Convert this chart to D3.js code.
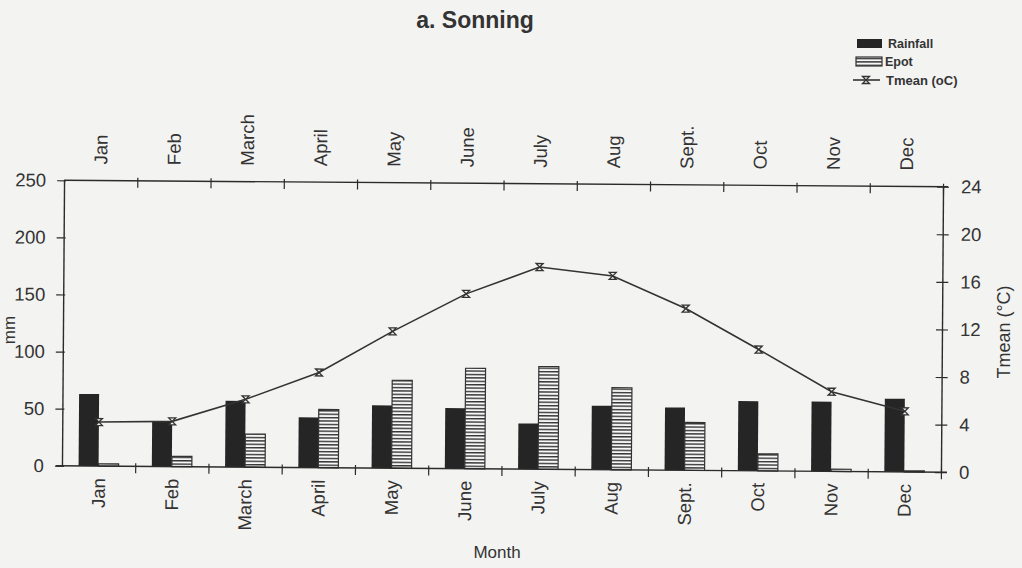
<!DOCTYPE html>
<html>
<head>
    <meta charset="utf-8">
    <title>a. Sonning</title>
    <script src="https://d3js.org/d3.v7.min.js"></script>
    <style>
        body { margin: 0; background: #f3f3f2; }
        svg text { font-family: "Liberation Sans", Arial, sans-serif; fill: #333; }
    </style>
</head>
<body>
    <svg id="canvas"></svg>
    <script>
        // monthly values
        var months = ["Jan", "Feb", "March", "April", "May", "June", "July", "Aug", "Sept.", "Oct", "Nov", "Dec"];
        var rainfall = [63, 39, 58, 44, 55, 53, 40, 56, 55, 61, 61, 64];
        var epot = [2, 9, 29, 51, 77, 88, 90, 72, 42, 15, 2, 1];
        var tmean = [3.7, 3.8, 5.7, 8.0, 11.5, 14.7, 17.0, 16.3, 13.6, 10.2, 6.7, 5.1];
        var mmTicks = [0, 50, 100, 150, 200, 250];
        var tTicks = [0, 4, 8, 12, 16, 20, 24];

        var width = 1022, height = 568;
        // note: "top" is taken by window.top, hence the names
        var pLeft = 63, pRight = 942, pTop = 183.5, pBottom = 469;
        var ink = "#2b2b2b";

        var svg = d3.select("#canvas")
            .attr("width", width)
            .attr("height", height);

        var defs = svg.append("defs");
        var pat = defs.append("pattern")
            .attr("id", "stripes")
            .attr("patternUnits", "userSpaceOnUse")
            .attr("width", 8).attr("height", 3.4);
        pat.append("rect").attr("width", 8).attr("height", 3.4).attr("fill", "#f7f7f7");
        pat.append("rect").attr("y", 0).attr("width", 8).attr("height", 1.4).attr("fill", "#333");

        // scales
        var x = d3.scaleBand().domain(months).range([pLeft, pRight]).paddingInner(0);
        var xb = d3.scaleLinear().domain([0, 12]).range([pLeft, pRight]);
        var sub = d3.scaleBand().domain(["rain", "epot"]).range([0, x.bandwidth()]).paddingOuter(0.83);
        var y = d3.scaleLinear().domain([0, 250]).range([pBottom, pTop]);
        var yT = d3.scaleLinear().domain([0, 24]).range([pBottom, pTop]);

        // the scan is a little tilted, so is the plot
        var plot = svg.append("g")
            .attr("transform", "rotate(0.42," + (pLeft + pRight) / 2 + "," + (pTop + pBottom) / 2 + ")");

        // bars
        plot.append("g").selectAll("rect")
            .data(rainfall)
            .enter()
            .append("rect")
            .attr("x", function (d, i) { return x(months[i]) + sub("rain"); })
            .attr("y", function (d) { return y(d); })
            .attr("width", sub.bandwidth())
            .attr("height", function (d) { return y(0) - y(d); })
            .attr("fill", "#252525");

        plot.append("g").selectAll("rect")
            .data(epot)
            .enter()
            .append("rect")
            .attr("x", function (d, i) { return x(months[i]) + sub("epot"); })
            .attr("y", function (d) { return y(d); })
            .attr("width", sub.bandwidth())
            .attr("height", function (d) { return y(0) - y(d); })
            .attr("fill", "url(#stripes)")
            .attr("stroke", "#333")
            .attr("stroke-width", 1.2);

        // axes
        function style(g) {
            g.select(".domain").attr("stroke", ink).attr("stroke-width", 1.4);
            g.selectAll(".tick line").attr("stroke", ink).attr("stroke-width", 1.2);
            g.selectAll(".tick text").style("font-size", "18.5px").attr("fill", "#333");
        }

        var gl = plot.append("g")
            .attr("transform", "translate(" + pLeft + ",0)")
            .call(d3.axisLeft(y).tickValues(mmTicks).tickSizeOuter(0).tickPadding(12));
        style(gl);
        gl.selectAll(".tick line").attr("x1", 2).attr("x2", -7);

        var gr = plot.append("g")
            .attr("transform", "translate(" + pRight + ",0)")
            .call(d3.axisRight(yT).tickValues(tTicks).tickSizeOuter(0).tickPadding(12));
        style(gr);
        gr.selectAll(".tick line").attr("x1", -6).attr("x2", 6);

        var gb = plot.append("g")
            .attr("transform", "translate(0," + pBottom + ")")
            .call(d3.axisBottom(xb).ticks(12).tickFormat("").tickSizeOuter(0));
        style(gb);
        gb.select(".domain").attr("d", "M" + (pLeft - 6) + ",0H" + (pRight + 6));
        gb.selectAll(".tick line").attr("y1", -3).attr("y2", 7);
        gb.selectAll(".tick").filter(function (d) { return d === 0; }).remove();

        var gt = plot.append("g")
            .attr("transform", "translate(0," + pTop + ")")
            .call(d3.axisTop(xb).ticks(12).tickFormat("").tickSizeOuter(0));
        style(gt);
        gt.select(".domain").attr("d", "M" + pLeft + ",0H" + (pRight + 5));
        gt.selectAll(".tick line").attr("y1", -3).attr("y2", 7);
        gt.selectAll(".tick").filter(function (d) { return d === 0; }).remove();

        // month labels, top and bottom
        var lb = plot.append("g")
            .attr("transform", "translate(0," + pBottom + ")")
            .call(d3.axisBottom(x).tickSize(0));
        lb.select(".domain").remove();
        lb.selectAll(".tick text")
            .style("font-size", "18.5px")
            .attr("fill", "#333")
            .attr("text-anchor", "end")
            .attr("transform", "rotate(-90)")
            .attr("x", -12).attr("y", 0).attr("dy", "0.35em");

        var lt = plot.append("g")
            .attr("transform", "translate(0," + pTop + ")")
            .call(d3.axisTop(x).tickSize(0));
        lt.select(".domain").remove();
        lt.selectAll(".tick text")
            .style("font-size", "18.5px")
            .attr("fill", "#333")
            .attr("text-anchor", "start")
            .attr("transform", "rotate(-90)")
            .attr("x", 16).attr("y", 0).attr("dy", "0.35em");

        // temperature line
        var line = d3.line()
            .x(function (d, i) { return x(months[i]) + x.bandwidth() / 2; })
            .y(function (d) { return yT(d); });

        plot.append("path")
            .datum(tmean)
            .attr("d", line)
            .attr("fill", "none")
            .attr("stroke", "#333")
            .attr("stroke-width", 1.6);

        var hourglass = "M-3.5,-3.5H3.5L-3.5,3.5H3.5Z";
        plot.append("g").selectAll("path")
            .data(tmean)
            .enter()
            .append("path")
            .attr("d", hourglass)
            .attr("transform", function (d, i) {
                return "translate(" + (x(months[i]) + x.bandwidth() / 2) + "," + yT(d) + ")";
            })
            .attr("fill", "#f3f3f3")
            .attr("stroke", "#333")
            .attr("stroke-width", 1.3);

        // titles
        svg.append("text")
            .attr("x", 475).attr("y", 28)
            .attr("text-anchor", "middle")
            .style("font-size", "23px").style("font-weight", "bold")
            .text("a. Sonning");

        svg.append("text")
            .attr("x", 497).attr("y", 558)
            .attr("text-anchor", "middle")
            .style("font-size", "17px")
            .text("Month");

        svg.append("text")
            .attr("transform", "translate(15,330) rotate(-90)")
            .attr("text-anchor", "middle")
            .style("font-size", "17px")
            .text("mm");

        svg.append("text")
            .attr("transform", "translate(1010,332) rotate(-90)")
            .attr("text-anchor", "middle")
            .style("font-size", "18px")
            .text("Tmean (°C)");

        // legend
        var lg = svg.append("g");
        lg.append("rect").attr("x", 857).attr("y", 39).attr("width", 25).attr("height", 9).attr("fill", "#252525");
        lg.append("text").attr("x", 888).attr("y", 48).style("font-size", "12.5px").style("font-weight", "bold").text("Rainfall");

        lg.append("rect").attr("x", 856).attr("y", 57).attr("width", 26).attr("height", 9)
            .attr("fill", "url(#stripes)").attr("stroke", "#333").attr("stroke-width", 1.2);
        lg.append("text").attr("x", 885).attr("y", 66).style("font-size", "12.5px").style("font-weight", "bold").text("Epot");

        lg.append("line").attr("x1", 853).attr("x2", 880).attr("y1", 80).attr("y2", 80)
            .attr("stroke", "#333").attr("stroke-width", 1.6);
        lg.append("path").attr("d", hourglass).attr("transform", "translate(866,80)")
            .attr("fill", "#f3f3f3").attr("stroke", "#333").attr("stroke-width", 1.3);
        lg.append("text").attr("x", 886).attr("y", 85).style("font-size", "13px").style("font-weight", "bold").text("Tmean (oC)");
    </script>
</body>
</html>
